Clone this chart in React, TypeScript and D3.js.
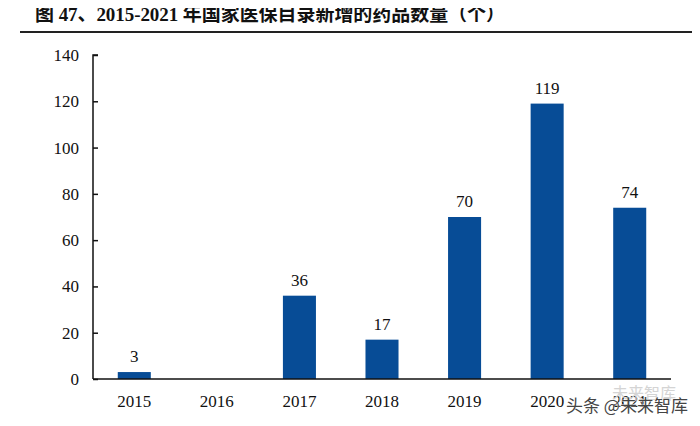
import { useEffect, useRef } from "react";
import * as d3 from "d3";

const years = ["2015", "2016", "2017", "2018", "2019", "2020", "2021"];
const added = [3, 0, 36, 17, 70, 119, 74];
const yTicks = [0, 20, 40, 60, 80, 100, 120, 140];

const title = "图 47、2015-2021 年国家医保目录新增的药品数量（个）";
const watermark = "头条 @未来智库";

export default function App() {
	const svgRef = useRef<SVGSVGElement | null>(null);

	useEffect(() => {
		if (!svgRef.current) return;
		const width = 700;
		const height = 426;
		const svg = d3.select(svgRef.current);
		svg.selectAll("*").remove();
		svg.attr("width", width).attr("height", height);

		const serif = "Liberation Serif, DejaVu Serif, serif";
		const left = 93;
		const right = 671;
		const top = 55;
		const bottom = 379;

		// title + rule
		svg
			.append("text")
			.attr("x", 35)
			.attr("y", 21)
			.style("font-family", `${serif}, Noto Sans CJK SC`)
			.attr("font-weight", "bold")
			.attr("font-size", 19)
			.attr("textLength", 470)
			.attr("lengthAdjust", "spacing")
			.attr("fill", "#111")
			.text(title);
		svg
			.append("line")
			.attr("x1", 20)
			.attr("x2", width)
			.attr("y1", 32)
			.attr("y2", 32)
			.attr("stroke", "#222")
			.attr("stroke-width", 2);

		const x = d3
			.scaleBand()
			.domain(years)
			.range([left, right])
			.paddingInner(0.6)
			.paddingOuter(0.3);
		const y = d3.scaleLinear().domain([0, 140]).range([bottom, top]);

		const rows = years.map((yr, i) => ({ yr, v: added[i] }));

		// bars
		svg
			.append("g")
			.selectAll("rect")
			.data(rows)
			.join("rect")
			.attr("x", (d) => x(d.yr) as number)
			.attr("width", x.bandwidth())
			.attr("y", (d) => y(d.v))
			.attr("height", (d) => bottom - y(d.v))
			.attr("fill", "#074c96");

		// value labels (zero has none)
		svg
			.append("g")
			.selectAll("text")
			.data(rows.filter((d) => d.v > 0))
			.join("text")
			.attr("x", (d) => (x(d.yr) as number) + x.bandwidth() / 2)
			.attr("y", (d) => y(d.v) - 10)
			.attr("text-anchor", "middle")
			.style("font-family", serif)
			.attr("font-size", 17)
			.attr("fill", "#111")
			.text((d) => d.v);

		// y axis
		const yAxis = svg
			.append("g")
			.attr("transform", `translate(${left},0)`)
			.call(d3.axisRight(y).tickValues(yTicks).tickSize(5).tickFormat(() => ""));
		yAxis
			.select(".domain")
			.attr("stroke", "#111")
			.attr("stroke-width", 1.5)
			.attr("d", `M5,${top}H0V${bottom}`);
		yAxis.selectAll(".tick line").attr("stroke", "#111").attr("stroke-width", 1.5);

		svg
			.append("g")
			.selectAll("text")
			.data(yTicks)
			.join("text")
			.attr("x", 79)
			.attr("y", (d) => y(d) + 6)
			.attr("text-anchor", "end")
			.style("font-family", serif)
			.attr("font-size", 17)
			.attr("fill", "#111")
			.text((d) => d);

		// x axis
		svg
			.append("line")
			.attr("x1", left)
			.attr("x2", right)
			.attr("y1", bottom)
			.attr("y2", bottom)
			.attr("stroke", "#111")
			.attr("stroke-width", 1.5);
		svg
			.append("g")
			.selectAll("text")
			.data(years)
			.join("text")
			.attr("x", (d) => (x(d) as number) + x.bandwidth() / 2)
			.attr("y", 407)
			.attr("text-anchor", "middle")
			.style("font-family", serif)
			.attr("font-size", 17)
			.attr("fill", "#111")
			.text((d) => d);

		// watermark
		svg
			.append("text")
			.attr("x", 612)
			.attr("y", 399)
			.style("font-family", "Noto Sans CJK SC, sans-serif")
			.attr("font-size", 16)
			.attr("fill", "#d4d4d4")
			.text("未来智库");
		svg
			.append("text")
			.attr("x", 566)
			.attr("y", 412)
			.style("font-family", "Noto Sans CJK SC, sans-serif")
			.attr("font-size", 17)
			.attr("fill", "#444")
			.attr("stroke", "#fff")
			.attr("stroke-width", 0.6)
			.attr("paint-order", "stroke")
			.text(watermark);
	}, []);

	return (
		<div style={{ margin: -8 }}>
			<svg ref={svgRef} style={{ display: "block" }} />
		</div>
	);
}
